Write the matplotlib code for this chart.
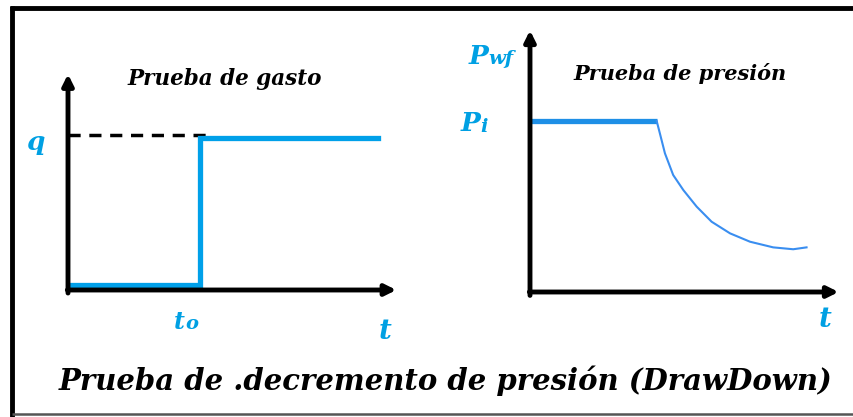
import matplotlib
matplotlib.use("Agg")
import matplotlib.pyplot as plt
from matplotlib.lines import Line2D

# ---- data ----
t0 = 4.0
rate_t = [0.05, t0, t0, 9.4]
rate_q = [0.03, 0.03, 1.0, 1.0]
dash_t = [0.0, 4.2]
dash_q = [1.02, 1.02]

pi_t = [0.0, 3.99]
pi_p = [1.0, 1.0]
curve_t = [3.99, 4.09, 4.25, 4.51, 4.83, 5.25, 5.72, 6.30, 6.93, 7.66, 8.29, 8.71]
curve_p = [1.0, 0.928, 0.811, 0.684, 0.596, 0.499, 0.411, 0.343, 0.294, 0.261, 0.250, 0.261]

W, H = 854, 417
fig = plt.figure(figsize=(W / 100, H / 100), dpi=100)
fig.patch.set_facecolor("white")

blue_txt = "#00A0E3"
blue_line = "#00A0E9"
label_font = dict(family="DejaVu Serif", weight="bold", style="italic", color=blue_txt)
title_font = dict(family="DejaVu Serif", weight="bold", style="italic", color="black")

# ---- frame ----
fig.add_artist(Line2D([12 / W, 12 / W], [0, 1 - 6 / H], transform=fig.transFigure,
                      color="black", lw=3.5, solid_capstyle="butt"))
fig.add_artist(Line2D([10 / W, 1], [1 - 8 / H, 1 - 8 / H], transform=fig.transFigure,
                      color="black", lw=3.5, solid_capstyle="butt"))
fig.add_artist(Line2D([12 / W, 1], [3 / H, 3 / H], transform=fig.transFigure,
                      color="#555555", lw=1.8, solid_capstyle="butt"))

# ---- left: rate test ----
ux1, uy1 = 33.0, 152.0
ax1 = fig.add_axes([68 / W, (H - 290) / H, 10 * ux1 / W, 1.5 * uy1 / H])
ax1.set_xlim(0, 10)
ax1.set_ylim(0, 1.5)
ax1.axis("off")
arrow_kw = dict(arrowstyle="-|>", lw=3.5, color="black", mutation_scale=16,
                shrinkA=0, shrinkB=0)
ax1.annotate("", xy=(0, 1.42), xytext=(0, -0.02), arrowprops=arrow_kw, annotation_clip=False)
ax1.annotate("", xy=(9.95, 0), xytext=(-0.02, 0), arrowprops=arrow_kw, annotation_clip=False)
ax1.plot(dash_t, dash_q, color="black", lw=2.5, dashes=(3.5, 2.5), clip_on=False)
ax1.plot(rate_t, rate_q, color=blue_line, lw=3.8, clip_on=False, solid_joinstyle="miter")
ax1.text(4.75, 1.39, "Prueba de gasto", ha="center", va="center", fontsize=15.5, **title_font)
ax1.text(-1.0, 0.97, "q", ha="center", va="center", fontsize=19, **label_font)
ax1.text(3.55, -0.21, "t", ha="right", va="center", fontsize=17, **label_font)
ax1.text(3.55, -0.225, "o", ha="left", va="center", fontsize=14, **label_font)
ax1.text(9.6, -0.27, "t", ha="center", va="center", fontsize=20, **label_font)

# ---- right: pressure test ----
ux2, uy2 = 31.75, 171.0
ax2 = fig.add_axes([530 / W, (H - 292) / H, 10 * ux2 / W, 1.6 * uy2 / H])
ax2.set_xlim(0, 10)
ax2.set_ylim(0, 1.6)
ax2.axis("off")
ax2.annotate("", xy=(0, 1.53), xytext=(0, -0.02), arrowprops=arrow_kw, annotation_clip=False)
ax2.annotate("", xy=(9.72, 0), xytext=(-0.02, 0), arrowprops=arrow_kw, annotation_clip=False)
ax2.plot(pi_t, pi_p, color="#1E8FE6", lw=3.8, clip_on=False, solid_capstyle="butt")
ax2.plot(curve_t, curve_p, color="#3A8EF0", lw=1.5, clip_on=False, solid_joinstyle="round")
ax2.text(4.72, 1.28, "Prueba de presión", ha="center", va="center", fontsize=15, **title_font)
ax2.text(-1.3, 1.38, "P", ha="right", va="center", fontsize=19, **label_font)
ax2.text(-1.3, 1.365, "wf", ha="left", va="center", fontsize=14, **label_font)
ax2.text(-1.55, 0.985, "P", ha="right", va="center", fontsize=19, **label_font)
ax2.text(-1.55, 0.965, "i", ha="left", va="center", fontsize=14, **label_font)
ax2.text(9.3, -0.16, "t", ha="center", va="center", fontsize=20, **label_font)

# ---- caption ----
fig.text(446 / W, 1 - 381 / H, "Prueba de .decremento de presión (DrawDown)",
         ha="center", va="center", fontsize=21, family="DejaVu Serif",
         weight="bold", style="italic", color="black")

fig.savefig("out.png", dpi=100, facecolor="white")
